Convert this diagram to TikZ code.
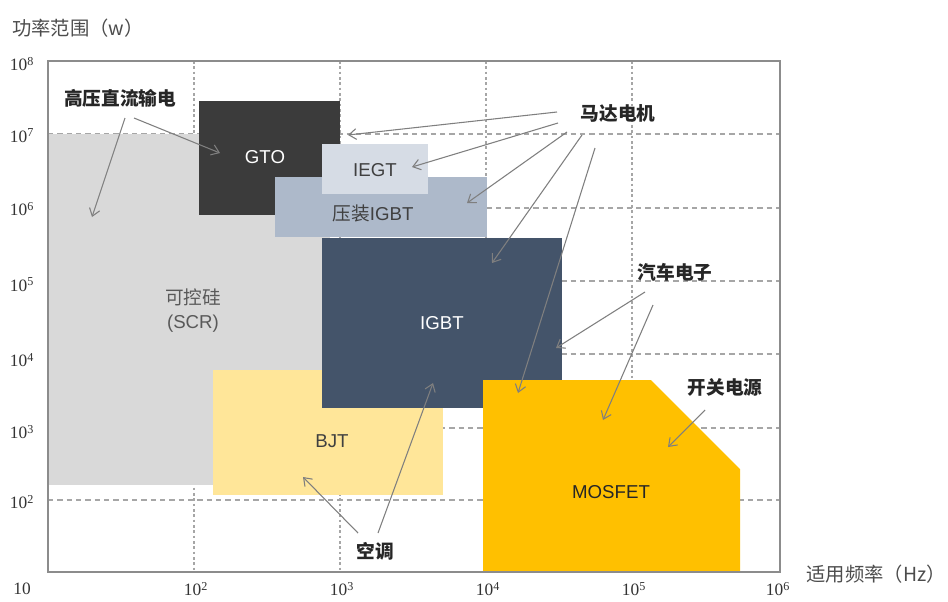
\documentclass[tikz,border=0pt]{standalone}
\usepackage{fontspec}
\setmainfont{Liberation Serif}
\setsansfont{Liberation Sans}
\newfontfamily\cjk{Noto Sans CJK SC}
\usetikzlibrary{arrows.meta}
\definecolor{scrgray}{HTML}{D9D9D9}
\definecolor{gtodark}{HTML}{3B3B3B}
\definecolor{iegtc}{HTML}{D6DCE5}
\definecolor{pressc}{HTML}{ADB9CA}
\definecolor{igbtc}{HTML}{44546A}
\definecolor{bjtc}{HTML}{FFE699}
\definecolor{mosc}{HTML}{FFC000}
\definecolor{arrc}{HTML}{7F7F7F}
\definecolor{framec}{HTML}{8C8C8C}
\definecolor{gridc}{HTML}{A6A6A6}
\definecolor{txtc}{HTML}{404040}
\begin{document}
\begin{tikzpicture}[x=0.75pt,y=-0.75pt,
  hgrid/.style={draw=gridc,line width=0.9pt,dash pattern=on 4pt off 3pt},
  vgrid/.style={draw=gridc,line width=1.2pt,dash pattern=on 2pt off 2pt},
  boxtext/.style={font=\sffamily\fontsize{14}{16}\selectfont,text=txtc,inner sep=0pt},
  applabel/.style={font=\cjk\bfseries\fontsize{14}{16}\selectfont,text=black!85,inner sep=0pt},
  ticklab/.style={font=\fontsize{13}{15}\selectfont,text=black!80,inner sep=0pt},
  axlabel/.style={font=\cjk\fontsize{14.5}{16}\selectfont,text=black!70,inner sep=0pt},
  pointer/.style={draw=arrc,line width=0.8pt,-{Straight Barb[length=5.5pt,width=8pt]}}
]
\useasboundingbox (0,0) rectangle (948,601);
% grid
\foreach \yy in {134,208,281,354,428,500} \draw[hgrid] (48,\yy) -- (780,\yy);
\foreach \xx in {194,340,486,632} \draw[vgrid] (\xx,61) -- (\xx,572);
% regions
\fill[scrgray] (48,134) rectangle (330,485);
\fill[bjtc] (213,370) rectangle (443,495);
\fill[gtodark] (199,101) rectangle (340,215);
\fill[pressc] (275,177) rectangle (487,237);
\fill[iegtc] (322,144) rectangle (428,194);
\fill[igbtc] (322,238) rectangle (562,408);
\fill[mosc] (483,572) -- (483,380) -- (651,380) -- (740,469) -- (740,572) -- cycle;
% frame
\draw[framec,line width=1.6pt] (48,61) rectangle (780,572);
% region texts
\node[boxtext,text=white] (gto) at (265,157) {GTO};
\node[boxtext] (iegt) at (375,170) {IEGT};
\node[boxtext] (press) at (373,213) {{\cjk 压装}IGBT};
\node[boxtext,align=center,text=black!65] (scr) at (193,311) {{\cjk 可控硅}\\[2pt](SCR)};
\node[boxtext,text=white] (igbt) at (442,323) {IGBT};
\node[boxtext] (bjt) at (332,441) {BJT};
\node[boxtext,text=black!85] (mosfet) at (611,492) {MOSFET};
% axis labels
\node[axlabel] (ylab) at (78,28) {功率范围（w）};
\node[axlabel] (xlab) at (876,574) {适用频率（Hz）};
% ticks
\node[ticklab] (t10) at (22,589) {10};
\node[ticklab] (y2) at (22,502) {10\textsuperscript{2}};
\node[ticklab] (y3) at (22,432) {10\textsuperscript{3}};
\node[ticklab] (y4) at (22,360) {10\textsuperscript{4}};
\node[ticklab] (y5) at (22,285) {10\textsuperscript{5}};
\node[ticklab] (y6) at (22,209) {10\textsuperscript{6}};
\node[ticklab] (y7) at (22,136) {10\textsuperscript{7}};
\node[ticklab] (y8) at (22,64) {10\textsuperscript{8}};
\node[ticklab] (x2) at (196,589) {10\textsuperscript{2}};
\node[ticklab] (x3) at (342,589) {10\textsuperscript{3}};
\node[ticklab] (x4) at (488,589) {10\textsuperscript{4}};
\node[ticklab] (x5) at (634,589) {10\textsuperscript{5}};
\node[ticklab] (x6) at (778,589) {10\textsuperscript{6}};
% application labels
\node[applabel] (hvdc) at (120,98) {高压直流输电};
\node[applabel] (motor) at (618,113) {马达电机};
\node[applabel] (auto) at (675,272) {汽车电子};
\node[applabel] (smps) at (725,387) {开关电源};
\node[applabel] (ac) at (375,551) {空调};
% pointer coordinates
\coordinate (h1s) at (125,118); \coordinate (h1e) at (92,217);
\coordinate (h2s) at (134,118); \coordinate (h2e) at (220,153);
\coordinate (m1s) at (557,112); \coordinate (m1e) at (348,135);
\coordinate (m2s) at (558,123); \coordinate (m2e) at (412,167);
\coordinate (m3s) at (567,132); \coordinate (m3e) at (467,203);
\coordinate (m4s) at (582,135); \coordinate (m4e) at (492,263);
\coordinate (m5s) at (595,148); \coordinate (m5e) at (518,393);
\coordinate (a1s) at (645,292); \coordinate (a1e) at (556,348);
\coordinate (a2s) at (653,305); \coordinate (a2e) at (603,420);
\coordinate (s1s) at (705,410); \coordinate (s1e) at (668,447);
\coordinate (c1s) at (358,533); \coordinate (c1e) at (303,477);
\coordinate (c2s) at (378,533); \coordinate (c2e) at (433,383);
\foreach \p in {h1,h2,m1,m2,m3,m4,m5,a1,a2,s1,c1,c2}
  \draw[pointer] (\p s) -- (\p e);
\end{tikzpicture}
\end{document}
